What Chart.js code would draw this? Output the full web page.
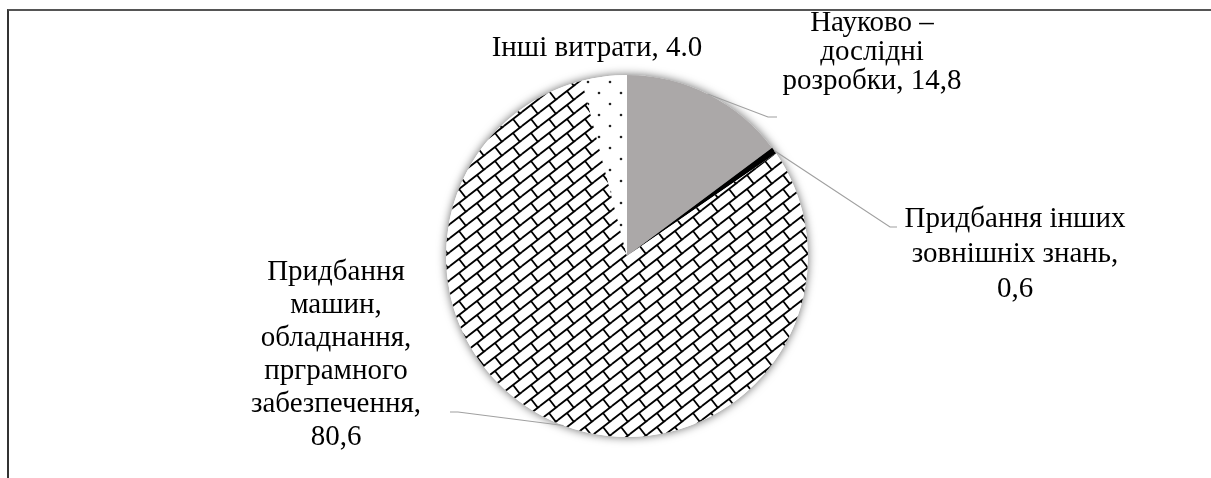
<!DOCTYPE html>
<html>
<head>
<meta charset="utf-8">
<script src="https://cdn.jsdelivr.net/npm/chart.js@4"></script>
<style>
  html, body { margin: 0; padding: 0; background: #fff; overflow: hidden; }
  #wrap { position: relative; width: 1211px; height: 478px; }
  #frame { position: absolute; left: 7px; top: 9px; width: 1300px; height: 600px;
           border-top: 2px solid #555; border-left: 2px solid #333; }
  #chartPie { position: absolute; left: 0; top: 0; }
</style>
</head>
<body>
<div id="wrap">
  <div id="frame"></div>
  <canvas id="chartPie" width="1211" height="478"></canvas>
</div>
<script>
// data
let categories = [
  "Науково – дослідні розробки",
  "Придбання інших зовнішніх знань",
  "Придбання машин, обладнання, прграмного забезпечення",
  "Інші витрати"
];
let values = [14.8, 0.6, 80.6, 4.0];
// label text as printed on the chart
let labelLines = [
  ["Науково –", "дослідні", "розробки, 14,8"],
  ["Придбання інших", "зовнішніх знань,", "0,6"],
  ["Придбання", "машин,", "обладнання,", "прграмного", "забезпечення,", "80,6"],
  ["Інші витрати, 4.0"]
];

/*label placement, offsets from the pie centre*/
let labelPos = [
  { dx: 245, dy: -233, lh: 29, elbow: [141, -139], end: 150 },
  { dx: 388, dy: -37, lh: 35, elbow: [263, -29], end: 270 },
  { dx: -291, dy: 16, lh: 33, elbow: [-169, 156], end: -177 },
  { dx: -30, dy: -208, lh: 30, elbow: null, end: null }
];

function brickPattern() {
  let w = 18, h = 14;
  let c = document.createElement("canvas");
  c.width = w; c.height = h;
  let g = c.getContext("2d");
  g.fillStyle = "#fff";
  g.fillRect(0, 0, w, h);
  g.strokeStyle = "#000";
  g.lineWidth = 1.8;
  let len = Math.sqrt(w * w + h * h);
  let gap = w * h / len;
  for (let i = -1; i <= 1; i++) {
    for (let j = -1; j <= 1; j++) {
      let ox = i * w, oy = j * h;
      g.beginPath();
      g.moveTo(ox, oy + h);
      g.lineTo(ox + w, oy);
      // joint between the rows
      g.moveTo(ox + w / 2, oy + h / 2);
      g.lineTo(ox + w / 2 + h * gap / len, oy + h / 2 + w * gap / len);
      g.stroke();
    }
  }
  return g.createPattern(c, "repeat");
}

function dotPattern() {
  let c = document.createElement("canvas");
  c.width = 22; c.height = 22;
  let g = c.getContext("2d");
  g.fillStyle = "#fff";
  g.fillRect(0, 0, 22, 22);
  g.fillStyle = "#222";
  [[5, 5], [16, 16]].forEach(function (p) {
    g.beginPath();
    g.arc(p[0], p[1], 1.3, 0, Math.PI * 2);
    g.fill();
  });
  return g.createPattern(c, "repeat");
}

let pieShadow = {
  id: "pieShadow",
  beforeDatasetsDraw: function (chart) {
    let arc = chart.getDatasetMeta(0).data[0];
    let ctx = chart.ctx;
    ctx.save();
    ctx.shadowColor = "rgba(0,0,0,0.6)";
    ctx.shadowBlur = 10;
    ctx.fillStyle = "#fff";
    ctx.beginPath();
    ctx.arc(arc.x, arc.y, arc.outerRadius, 0, Math.PI * 2);
    ctx.fill();
    ctx.restore();
  }
};

let leaderLabels = {
  id: "leaderLabels",
  afterDatasetsDraw: function (chart) {
    let ctx = chart.ctx;
    let arcs = chart.getDatasetMeta(0).data;
    ctx.save();
    arcs.forEach(function (arc, i) {
      let p = labelPos[i];
      let cx = arc.x, cy = arc.y;
      if (p.elbow) {
        let mid = (arc.startAngle + arc.endAngle) / 2;
        ctx.strokeStyle = "#a0a0a0";
        ctx.lineWidth = 1.2;
        ctx.beginPath();
        ctx.moveTo(cx + Math.cos(mid) * arc.outerRadius, cy + Math.sin(mid) * arc.outerRadius);
        ctx.lineTo(cx + p.elbow[0], cy + p.elbow[1]);
        ctx.lineTo(cx + p.end, cy + p.elbow[1]);
        ctx.stroke();
      }
      ctx.fillStyle = "#000";
      ctx.font = "29px 'Liberation Serif', 'Times New Roman', serif";
      ctx.textAlign = "center";
      ctx.textBaseline = "middle";
      labelLines[i].forEach(function (t, k) {
        ctx.fillText(t, cx + p.dx, cy + p.dy + k * p.lh);
      });
    });
    ctx.restore();
  }
};

let ctx = document.getElementById("chartPie").getContext("2d");

let pieChart = new Chart(ctx, {
  type: "pie",
  data: {
    labels: categories,
    datasets: [
      {
        data: values,
        backgroundColor: ["#aba8a8", "#000000", brickPattern(), dotPattern()],
        borderWidth: 0,
        hoverOffset: 0,
        offset: 0
      }
    ]
  },
  options: {
    responsive: false,
    animation: false,
    devicePixelRatio: 1,
    layout: { padding: { left: 300, right: 257, top: 75, bottom: 41 } },
    plugins: {
      legend: { display: false },
      tooltip: { enabled: false }
    }
  },
  plugins: [pieShadow, leaderLabels]
});
</script>
</body>
</html>
